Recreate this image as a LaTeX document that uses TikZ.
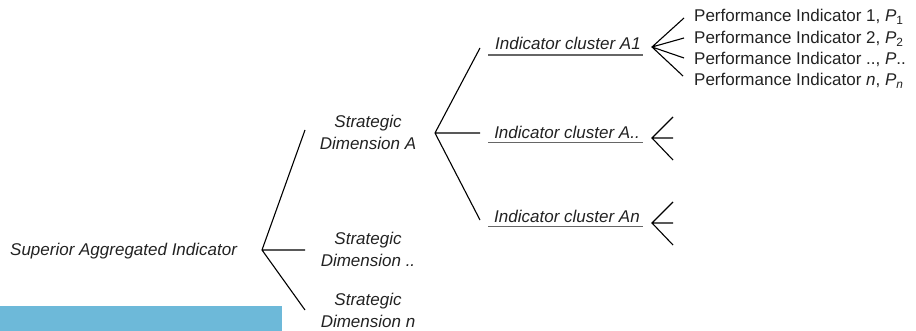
\documentclass[tikz,border=0pt]{standalone}
\usepackage{fontspec}
\setmainfont{Liberation Sans}
\definecolor{txt}{HTML}{222222}
\definecolor{ulgray}{HTML}{666666}
\definecolor{band}{HTML}{6DB9D9}
\tikzset{
  lbl/.style={font=\fontsize{17}{22}\selectfont\itshape, text=txt, inner sep=0pt},
  dimlbl/.style={lbl, align=center},
  pind/.style={font=\fontsize{17}{22}\selectfont, text=txt, inner sep=0pt, anchor=base west},
  branch/.style={line width=1.1pt, black},
  uline/.style={line width=1.4pt, ulgray},
}
\begin{document}
\begin{tikzpicture}[x=1pt,y=-1pt]
\useasboundingbox (0,0) rectangle (916,331);
\fill[band] (0,306) rectangle (282,331);

% labels
\node[lbl, anchor=base west] (sai) at (10,255) {Superior Aggregated Indicator};
\node[dimlbl] (sdA) at (368,134.6) {\strut Strategic\\\strut Dimension A};
\node[dimlbl] (sdB) at (368,250.6) {\strut Strategic\\\strut Dimension ..};
\node[dimlbl, anchor=north] (sdN) at (368,290) {\strut Strategic\\Dimension \textit{n}};

\node[lbl, anchor=base] (cA1) at (568,50) {Indicator cluster A1};
\node[lbl, anchor=base] (cAB) at (567,139) {Indicator cluster A..};
\node[lbl, anchor=base] (cAN) at (567,223) {Indicator cluster An};
\draw[uline] (488,55) -- (643,55);
\draw[uline] (488,142.5) -- (643,142.5);
\draw[uline] (488,226.5) -- (643,226.5);

\node[pind] (p1) at (694,22) {Performance Indicator 1, \textit{P}\textsubscript{1}};
\node[pind] (p2) at (694,43.5) {Performance Indicator 2, \textit{P}\textsubscript{2}};
\node[pind] (p3) at (694,65) {Performance Indicator .., \textit{P}..};
\node[pind] (p4) at (694,86) {Performance Indicator \textit{n}, \textit{P}\textsubscript{\textit{n}}};

% fork vertices and ends
\coordinate (v0) at (262,250);
\coordinate (e0a) at (305,130);
\coordinate (e0b) at (305,250);
\coordinate (e0c) at (305,310);

\coordinate (v1) at (435,133);
\coordinate (e1a) at (480,48);
\coordinate (e1b) at (480,133);
\coordinate (e1c) at (480,220);

\coordinate (v2) at (652,47);
\coordinate (e2a) at (684,18);
\coordinate (e2b) at (684,38);
\coordinate (e2c) at (684,58);
\coordinate (e2d) at (683,76);

\coordinate (v3) at (652,138);
\coordinate (e3a) at (673,117);
\coordinate (e3b) at (673,138);
\coordinate (e3c) at (673,160);

\coordinate (v4) at (652,223);
\coordinate (e4a) at (673,202);
\coordinate (e4b) at (673,223);
\coordinate (e4c) at (673,245);

\draw[branch] (e0a) -- (v0) -- (e0c) (v0) -- (e0b);
\draw[branch] (e1a) -- (v1) -- (e1c) (v1) -- (e1b);
\draw[branch] (e2a) -- (v2) -- (e2d) (v2) -- (e2b) (v2) -- (e2c);
\draw[branch] (e3a) -- (v3) -- (e3c) (v3) -- (e3b);
\draw[branch] (e4a) -- (v4) -- (e4c) (v4) -- (e4b);
\end{tikzpicture}
\end{document}
